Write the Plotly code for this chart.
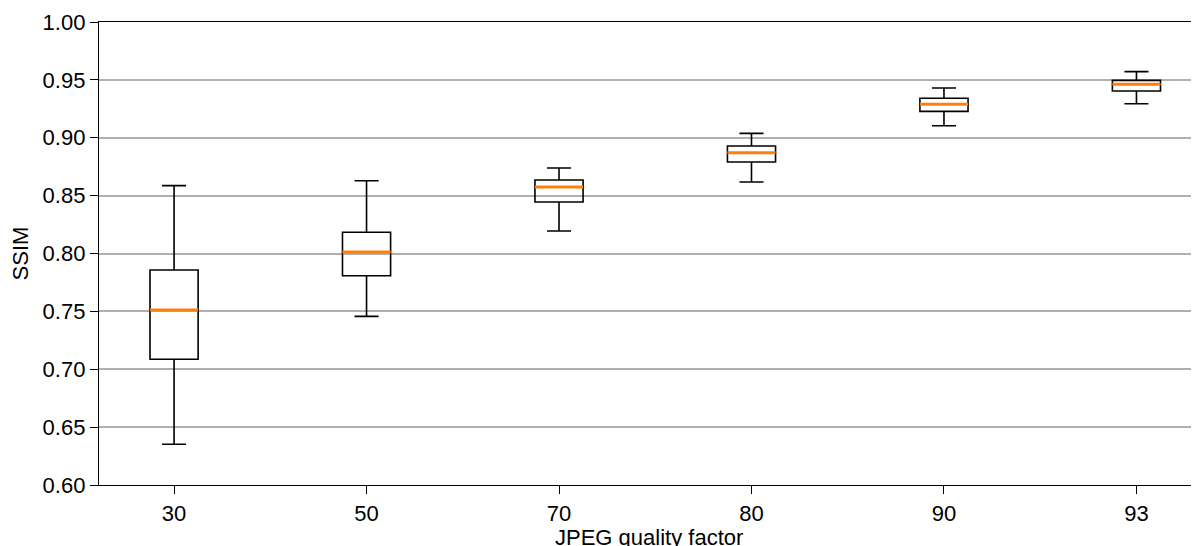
import plotly.graph_objects as go

# JPEG quality factors and SSIM box statistics
quality = ["30", "50", "70", "80", "90", "93"]
lower_whisker = [0.6352, 0.7457, 0.8194, 0.8618, 0.9104, 0.9294]
q1 = [0.7086, 0.7808, 0.8445, 0.8790, 0.9228, 0.9404]
median = [0.7512, 0.8013, 0.8574, 0.8871, 0.9289, 0.9462]
q3 = [0.7857, 0.8183, 0.8635, 0.8929, 0.9341, 0.9496]
upper_whisker = [0.8586, 0.8629, 0.8739, 0.9038, 0.9430, 0.9571]
y_ticks = [0.60, 0.65, 0.70, 0.75, 0.80, 0.85, 0.90, 0.95, 1.00]

positions = list(range(1, len(quality) + 1))
box_width = 0.25
font = "Liberation Sans, Arial, sans-serif"
tick_font = {"family": font, "size": 22, "color": "black"}

fig = go.Figure()
fig.add_trace(
    go.Box(
        x=positions,
        q1=q1,
        median=median,
        q3=q3,
        lowerfence=lower_whisker,
        upperfence=upper_whisker,
        width=box_width,
        whiskerwidth=0.5,
        fillcolor="rgba(0,0,0,0)",
        line={"color": "black", "width": 1.6},
        boxpoints=False,
        hoverinfo="skip",
        showlegend=False,
    )
)

# orange median lines like matplotlib
for pos, med in zip(positions, median):
    fig.add_trace(
        go.Scatter(
            x=[pos - box_width / 2, pos + box_width / 2],
            y=[med, med],
            mode="lines",
            line={"color": "#ff7f0e", "width": 3},
            hoverinfo="skip",
            showlegend=False,
        )
    )

# x title as an annotation so it can sit tight under the tick labels
fig.add_annotation(
    text="JPEG quality factor",
    xref="paper",
    yref="paper",
    x=0.5,
    y=0,
    yshift=-38,
    xanchor="center",
    yanchor="top",
    showarrow=False,
    font=tick_font,
)

# the page body has an 8px margin, so the figure is sized/placed to compensate
fig.update_layout(
    width=1191,
    height=538,
    plot_bgcolor="white",
    paper_bgcolor="white",
    margin={"l": 91, "r": 0, "t": 14, "b": 61, "autoexpand": False},
    font={"family": font, "size": 22, "color": "black"},
    xaxis={
        "range": [0.61, 6.325],
        "tickvals": positions,
        "ticktext": quality,
        "tickfont": tick_font,
        "showgrid": False,
        "zeroline": False,
        "showline": True,
        "mirror": True,
        "linecolor": "black",
        "linewidth": 1.3,
        "ticks": "outside",
        "ticklen": 8,
        "tickcolor": "black",
    },
    yaxis={
        "range": [0.60, 1.00],
        "tickvals": y_ticks,
        "tickformat": ".2f",
        "tickfont": tick_font,
        "showgrid": True,
        "gridcolor": "#b0b0b0",
        "gridwidth": 1.5,
        "zeroline": False,
        "showline": True,
        "linecolor": "black",
        "linewidth": 1.3,
        "ticks": "outside",
        "ticklen": 8,
        "tickcolor": "black",
        "title": {"text": "SSIM", "font": tick_font},
    },
)

fig.write_html("out.html")
